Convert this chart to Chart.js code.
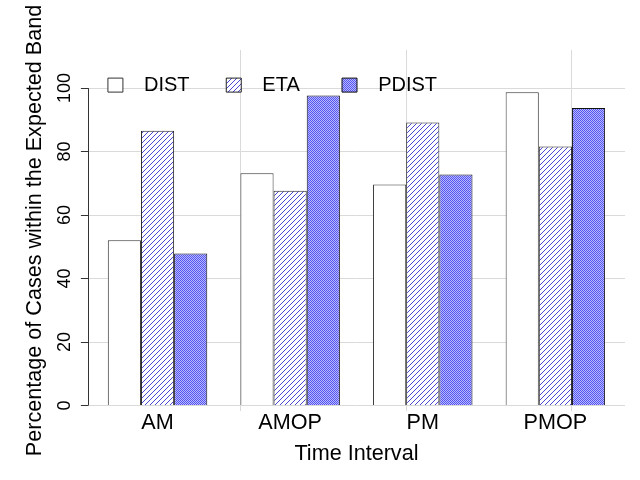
<!DOCTYPE html>
<html><head><meta charset="utf-8">
<script src="https://cdn.jsdelivr.net/npm/chart.js@4/dist/chart.umd.min.js"></script>
<style>html,body{margin:0;padding:0;background:#fff}#wrap{width:640px;height:480px}</style>
</head><body><div id="wrap"><canvas id="c" width="640" height="480"></canvas></div>
<script>
const categories = ['AM', 'AMOP', 'PM', 'PMOP'];
const seriesNames = ['DIST', 'ETA', 'PDIST'];
const distValues = [52.1, 73.2, 69.6, 98.7];
const etaValues = [86.6, 67.7, 89.2, 81.6];
const pdistValues = [47.9, 97.7, 72.8, 93.7];
const yTickValues = [0, 20, 40, 60, 80, 100];

const FONT = "'Liberation Sans', Arial, Helvetica, sans-serif";
const canvas = document.getElementById('c');
const ctx = canvas.getContext('2d');

function hatchPattern() {
  const s = 5;
  const c = document.createElement('canvas'); c.width = s; c.height = s;
  const g = c.getContext('2d');
  g.fillStyle = '#fff'; g.fillRect(0, 0, s, s);
  g.strokeStyle = '#4848d4'; g.lineWidth = 1;
  g.beginPath();
  g.moveTo(-1, s + 1); g.lineTo(s + 1, -1);
  g.moveTo(-1, 1); g.lineTo(1, -1);
  g.moveTo(s - 1, s + 1); g.lineTo(s + 1, s - 1);
  g.stroke();
  return ctx.createPattern(c, 'repeat');
}
function checkerPattern() {
  const c = document.createElement('canvas'); c.width = 2; c.height = 2;
  const g = c.getContext('2d');
  g.fillStyle = '#babaff'; g.fillRect(0, 0, 2, 2);
  g.fillStyle = '#5353f0'; g.fillRect(0, 0, 1, 1); g.fillRect(1, 1, 1, 1);
  return ctx.createPattern(c, 'repeat');
}

const toPoints = vals => vals.map((v, i) => ({x: i, y: v}));

// place the legend inside the plot region, as in the reference
const legendInPlot = {
  id: 'legendInPlot',
  beforeDraw(chart) {
    const lg = chart.legend;
    if (!lg) return;
    const w = lg.width;
    lg.left = chart.chartArea.left;
    lg.right = lg.left + w;
    lg.top = chart.scales.y.getPixelForValue(yTickValues[yTickValues.length - 1]) - 33;
    lg.bottom = lg.top + 60;
  }
};
const yAxisLine = {
  id: 'yAxisLine',
  afterDatasetsDraw(chart) {
    const ys = chart.scales.y;
    const c = chart.ctx;
    const x = Math.round(ys.right) + 0.5;
    c.save();
    c.strokeStyle = '#333'; c.lineWidth = 1;
    c.beginPath();
    c.moveTo(x, ys.getPixelForValue(yTickValues[0]));
    c.lineTo(x, ys.getPixelForValue(yTickValues[yTickValues.length - 1]));
    c.stroke();
    c.restore();
  }
};

new Chart(ctx, {
  type: 'bar',
  data: {
    datasets: [
      {label: seriesNames[0], data: toPoints(distValues), backgroundColor: '#ffffff', borderColor: '#333', borderWidth: 1},
      {label: seriesNames[1], data: toPoints(etaValues), backgroundColor: hatchPattern(), borderColor: '#222', borderWidth: 1},
      {label: seriesNames[2], data: toPoints(pdistValues), backgroundColor: checkerPattern(), borderColor: '#111', borderWidth: 1}
    ]
  },
  options: {
    responsive: false,
    animation: false,
    datasets: {bar: {categoryPercentage: 0.75, barPercentage: 1}},
    layout: {padding: {left: 22, right: 15, top: 0, bottom: 0}},
    plugins: {
      tooltip: {enabled: false},
      legend: {
        position: 'top',
        align: 'start',
        maxHeight: 52,
        labels: {
          font: {family: FONT, size: 20},
          color: '#000',
          boxWidth: 15,
          boxHeight: 14,
          padding: 20,
          generateLabels(chart) {
            const items = Chart.defaults.plugins.legend.labels.generateLabels(chart);
            const trail = ['   ', '    ', ''];
            items.forEach((it, i) => { it.text = '  ' + it.text + trail[i]; });
            return items;
          }
        }
      }
    },
    scales: {
      x: {
        type: 'linear', position: 'bottom', min: -0.525, max: 3.525, offset: false,
        grid: {display: false, drawTicks: false, offset: false}, border: {display: false},
        afterBuildTicks: s => { s.ticks = categories.map((_, i) => ({value: i})); },
        ticks: {font: {family: FONT, size: 21.6, lineHeight: 1}, color: '#000', padding: 1, maxRotation: 0, autoSkip: false,
          callback: v => categories[v]},
        title: {display: true, text: 'Time Interval', font: {family: FONT, size: 21.6}, color: '#000',
          padding: {top: 6.5, bottom: 13}}
      },
      x2: {
        type: 'linear', position: 'bottom', min: 0.4, max: 16.6, offset: false,
        grid: {color: '#dadada', borderDash: [1, 3], drawTicks: false, offset: false},
        border: {display: false},
        ticks: {display: false},
        afterBuildTicks: s => { s.ticks = [5, 10, 15].map(v => ({value: v})); }
      },
      y: {
        min: -1.7, max: 112,
        grid: {color: '#dadada', borderDash: [1, 3], tickLength: 7, tickColor: '#333', tickBorderDash: [], tickWidth: 1},
        border: {display: false},
        afterBuildTicks: s => { s.ticks = yTickValues.map(v => ({value: v})); },
        ticks: {font: {family: FONT, size: 18}, color: '#000', padding: 1, minRotation: 90, maxRotation: 90, crossAlign: 'center'},
        title: {display: true, text: 'Percentage of Cases within the Expected Band', font: {family: FONT, size: 21.6},
          color: '#000', padding: {top: 0, bottom: 9.4}}
      }
    }
  },
  plugins: [legendInPlot, yAxisLine]
});
</script>
</body></html>
